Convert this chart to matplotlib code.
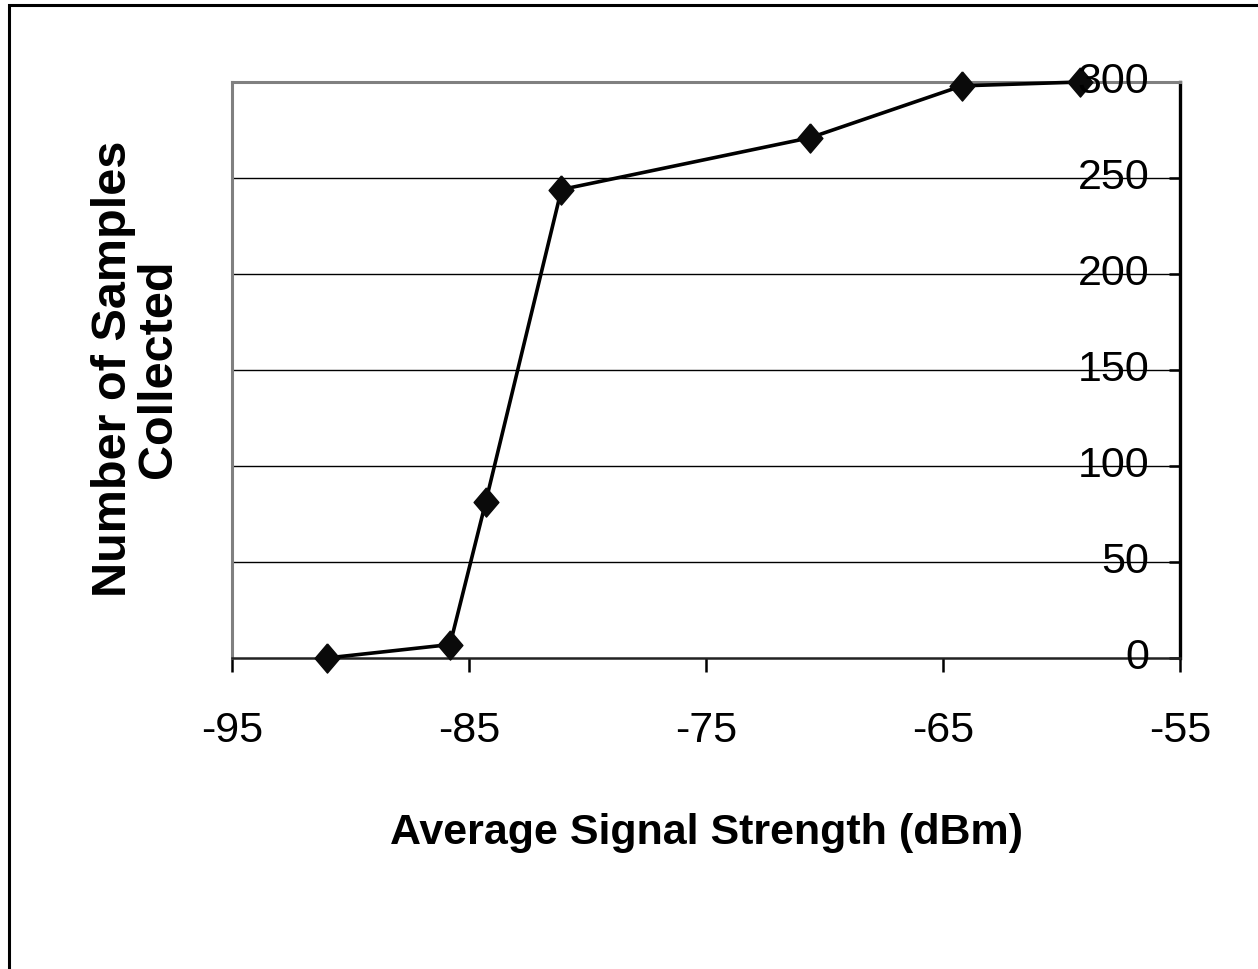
import matplotlib
matplotlib.use("Agg")
import matplotlib.pyplot as plt
from matplotlib.patches import Rectangle

# signal strength (dBm) vs. samples collected
signal_dbm = [-91.0, -85.8, -84.3, -81.1, -70.6, -64.2, -59.2]
samples = [0, 7, 81, 244, 271, 298, 300]

x_ticks = [-95, -85, -75, -65, -55]
y_ticks = [0, 50, 100, 150, 200, 250, 300]

SANS = ["Liberation Sans", "DejaVu Sans"]
TICK_SIZE = 31

fig = plt.figure(figsize=(12.58, 9.69), dpi=100)
ax = fig.add_axes([232 / 1258, 1 - 658 / 969, 948 / 1258, 576 / 969])

# horizontal grid
for v in y_ticks[1:-1]:
    ax.axhline(v, color="black", lw=1.0, zorder=1)

ax.plot(signal_dbm, samples, color="black", lw=2.6, zorder=3,
        marker=[(0, 1), (0.85, 0), (0, -1), (-0.85, 0), (0, 1)],
        markersize=21, markerfacecolor="#0a0a0a", markeredgecolor="#0a0a0a",
        clip_on=False)

ax.set_xlim(-95, -55)
ax.set_ylim(0, 300)

ax.spines["top"].set_color("#808080")
ax.spines["left"].set_color("#808080")
ax.spines["top"].set_linewidth(2.2)
ax.spines["left"].set_linewidth(2.2)
ax.spines["right"].set_color("black")
ax.spines["right"].set_linewidth(2.4)
ax.spines["bottom"].set_color("#222222")
ax.spines["bottom"].set_linewidth(1.8)

ax.set_xticks(x_ticks)
ax.set_xticklabels([str(t) for t in x_ticks], fontfamily=SANS,
                   fontsize=TICK_SIZE)
ax.tick_params(axis="x", direction="out", length=10, width=1.8, pad=28,
               color="black")

# y axis sits on the right edge, labels to the left of it
ax.set_yticks(y_ticks)
ax.tick_params(axis="y", left=False, right=True, labelleft=False,
               labelright=False, direction="in", length=8, width=1.8,
               color="black")
for v in y_ticks:
    ax.annotate(str(v), xy=(1, v), xycoords=("axes fraction", "data"),
                xytext=(-22, 0), textcoords="offset points",
                ha="right", va="center", fontsize=TICK_SIZE,
                fontfamily=SANS, annotation_clip=False)

fig.text(706 / 1258, 1 - 833 / 969, "Average Signal Strength (dBm)",
         ha="center", va="center", fontsize=31, fontweight="bold",
         fontfamily=SANS)
fig.text(136 / 1258, 1 - 369 / 969, "Number of Samples\nCollected",
         ha="center", va="center", rotation=90, fontsize=35,
         fontweight="bold", fontfamily=SANS, linespacing=1.0,
         multialignment="center")

# outer chart border
fig.patches.append(Rectangle((9 / 1258, -0.2), 1.2, 1.2 - 5 / 969,
                             transform=fig.transFigure, fill=False,
                             edgecolor="black", lw=2.2))

fig.savefig("out.png", dpi=100, facecolor="white")
